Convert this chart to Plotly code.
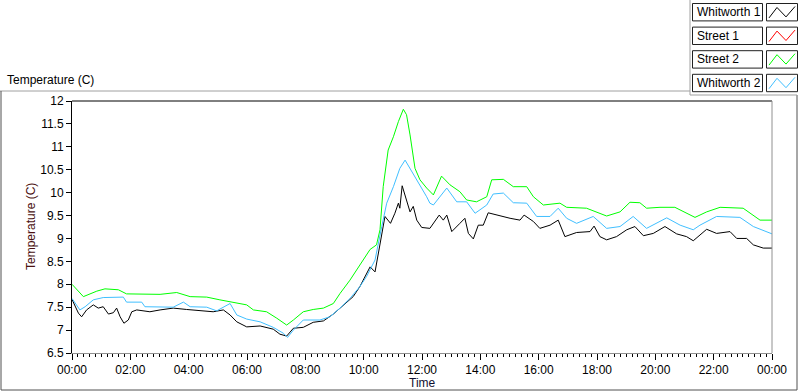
import pandas as pd
import plotly.graph_objects as go

# ---------------- data ----------------
series_names = ["Whitworth 1", "Street 1", "Street 2", "Whitworth 2"]
series_colors = ["#000000", "#ff0000", "#00ff00", "#40bfff"]

whitworth1_hours = [0.00, 0.22, 0.33, 0.50, 0.73, 0.90, 1.07, 1.25, 1.42, 1.53, 1.65, 1.78, 1.93, 2.05, 2.22,
                    2.67, 3.02, 3.47, 3.93, 4.39, 4.84, 5.19, 5.42, 5.65, 5.99, 6.45, 6.90, 7.13, 7.36, 7.59,
                    7.93, 8.27, 8.62, 8.96, 9.30, 9.64, 9.87, 10.22, 10.39, 10.56, 10.73, 10.92, 11.07, 11.19,
                    11.24, 11.32, 11.47, 11.59, 11.70, 11.82, 11.99, 12.27, 12.59, 12.73, 12.85, 13.02, 13.30,
                    13.47, 13.59, 13.76, 13.93, 14.10, 14.27, 14.67, 15.02, 15.36, 15.50, 15.82, 16.04, 16.39,
                    16.67, 16.90, 17.30, 17.76, 17.90, 18.10, 18.33, 18.67, 19.02, 19.30, 19.59, 19.93, 20.33,
                    20.73, 21.07, 21.30, 21.76, 22.10, 22.56, 22.79, 23.13, 23.36, 23.70, 24.00]
whitworth1_temp = [7.67, 7.37, 7.29, 7.44, 7.55, 7.48, 7.51, 7.35, 7.38, 7.48, 7.29, 7.15, 7.22, 7.40, 7.44,
                   7.40, 7.44, 7.48, 7.45, 7.42, 7.40, 7.44, 7.33, 7.18, 7.07, 7.09, 7.02, 6.91, 6.87, 7.04,
                   7.06, 7.17, 7.20, 7.35, 7.55, 7.73, 7.95, 8.38, 8.27, 8.90, 9.48, 9.33, 9.55, 9.77,
                   9.66, 10.15, 9.84, 9.58, 9.70, 9.40, 9.24, 9.22, 9.51, 9.40, 9.51, 9.15, 9.33,
                   9.44, 9.11, 8.99, 9.29, 9.29, 9.56, 9.49, 9.44, 9.40, 9.51, 9.37, 9.22, 9.29,
                   9.40, 9.04, 9.13, 9.15, 9.27, 9.04, 8.97, 9.04, 9.19, 9.26, 9.06, 9.11, 9.26,
                   9.10, 9.04, 8.95, 9.20, 9.11, 9.15, 9.00, 9.00, 8.86, 8.79, 8.79]

street1_hours = []
street1_temp = []

street2_hours = [0.00, 0.39, 0.85, 1.13, 1.59, 1.87, 3.02, 3.59, 4.05, 4.62, 5.07, 5.53, 5.99, 6.22, 6.67,
                 7.02, 7.36, 7.59, 7.93, 8.27, 8.62, 8.96, 9.19, 9.53, 9.87, 10.22, 10.44, 10.56, 10.67,
                 10.84, 11.02, 11.19, 11.36, 11.47, 11.59, 11.70, 11.76, 11.93, 12.16, 12.39, 12.67, 12.96,
                 13.30, 13.53, 13.87, 14.22, 14.39, 14.79, 15.13, 15.59, 15.82, 16.16, 16.73, 16.96, 17.64,
                 18.33, 18.79, 19.13, 19.47, 19.70, 20.16, 20.67, 21.07, 21.36, 21.76, 22.22, 23.01, 23.36,
                 23.59, 24.00]
street2_temp = [8.00, 7.73, 7.85, 7.90, 7.88, 7.79, 7.78, 7.82, 7.73, 7.72, 7.66, 7.61, 7.55, 7.44, 7.40,
                7.26, 7.11, 7.22, 7.40, 7.45, 7.48, 7.58, 7.80, 8.09, 8.42, 8.76, 8.86, 9.19, 10.13,
                10.93, 11.22, 11.55, 11.82, 11.70, 11.26, 10.71, 10.53, 10.28, 10.10, 9.95, 10.36, 10.17,
                10.02, 9.84, 9.80, 9.91, 10.28, 10.29, 10.13, 10.13, 9.91, 9.73, 9.77, 9.68, 9.66,
                9.49, 9.58, 9.79, 9.78, 9.66, 9.68, 9.68, 9.55, 9.46, 9.58, 9.68, 9.66, 9.51,
                9.40, 9.40]

whitworth2_hours = [0.00, 0.27, 0.45, 0.73, 1.07, 1.76, 1.87, 2.39, 2.50, 3.47, 3.82, 4.05, 4.62, 4.96, 5.42,
                    5.65, 5.99, 6.45, 6.90, 7.25, 7.39, 7.59, 7.93, 8.50, 8.84, 9.19, 9.53, 9.87, 10.10,
                    10.39, 10.62, 10.79, 11.02, 11.24, 11.42, 11.59, 11.82, 12.16, 12.27, 12.39, 12.85, 13.19,
                    13.53, 13.82, 14.22, 14.44, 14.79, 15.13, 15.59, 15.93, 16.39, 16.67, 16.96, 17.30, 17.87,
                    18.33, 18.79, 19.24, 19.70, 20.04, 20.39, 20.85, 21.30, 21.53, 22.10, 22.90, 23.36, 24.00]
whitworth2_temp = [7.69, 7.44, 7.51, 7.66, 7.71, 7.72, 7.61, 7.61, 7.51, 7.50, 7.61, 7.51, 7.50, 7.42, 7.58,
                   7.33, 7.24, 7.18, 7.06, 6.93, 6.84, 7.00, 7.22, 7.22, 7.29, 7.48, 7.69, 7.95, 8.17,
                   8.53, 9.26, 9.77, 10.13, 10.53, 10.71, 10.53, 10.28, 9.91, 9.77, 9.73, 10.10, 9.80,
                   9.80, 9.55, 9.73, 9.97, 9.99, 9.78, 9.77, 9.48, 9.48, 9.66, 9.44, 9.33, 9.48,
                   9.22, 9.26, 9.48, 9.22, 9.33, 9.45, 9.29, 9.19, 9.29, 9.48, 9.46, 9.26, 9.10]

series_hours = [whitworth1_hours, street1_hours, street2_hours, whitworth2_hours]
series_temps = [whitworth1_temp, street1_temp, street2_temp, whitworth2_temp]

y_ticks = [6.5, 7, 7.5, 8, 8.5, 9, 9.5, 10, 10.5, 11, 11.5, 12]
y_tick_labels = ["6.5", "7", "7.5", "8", "8.5", "9", "9.5", "10", "10.5", "11", "11.5", "12"]

base_day = pd.Timestamp("2015-06-01")

# ---------------- layout geometry (pixels) ----------------
W, H = 800, 392
L, R, T, B = 72, 772, 101, 353
FONT = "Liberation Sans"


def px(x):
    return (x - L) / (R - L)


def py(y):
    return (B - y) / (B - T)


fig = go.Figure()
for name, color, hrs, temps in zip(series_names, series_colors, series_hours, series_temps):
    t = [base_day + pd.Timedelta(hours=h) for h in hrs]
    fig.add_trace(go.Scatter(x=t, y=temps, mode="lines", name=name,
                             line=dict(color=color, width=1), showlegend=False))

shapes = []


def line(x0, y0, x1, y1, color, width=1):
    shapes.append(dict(type="line", xref="paper", yref="paper",
                       x0=px(x0), y0=py(y0), x1=px(x1), y1=py(y1),
                       line=dict(color=color, width=width)))


# outer panel frame
line(0, 91, 690, 91, "#a0a0a0")
line(1, 91, 1, 390, "#505050")
line(1, 390, 797, 390, "#505050")
line(797, 95, 797, 390, "#505050")
# legend panel frame
line(690, 0, 690, 95, "#a0a0a0")
line(690, 95, 797, 95, "#a0a0a0")
# plot box top and right
line(72, 101, 772, 101, "#000000")
line(772, 101, 772, 353, "#909090")

annotations = []
# custom legend
for i, (name, color) in enumerate(zip(series_names, series_colors)):
    y0 = 3.5 + i * 23.6
    y1 = y0 + 17.4
    shapes.append(dict(type="rect", xref="paper", yref="paper",
                       x0=px(692.5), x1=px(762.5), y0=py(y1), y1=py(y0),
                       line=dict(color="#202020", width=1), fillcolor="white"))
    shapes.append(dict(type="rect", xref="paper", yref="paper",
                       x0=px(766.5), x1=px(797.5), y0=py(y1), y1=py(y0),
                       line=dict(color="#202020", width=1), fillcolor="white"))
    pts = [(769, y1 - 3), (777, y0 + 4), (786, y1 - 4), (795, y0 + 3)]
    path = "M " + " L ".join(f"{px(a)},{py(b)}" for a, b in pts)
    shapes.append(dict(type="path", xref="paper", yref="paper", path=path,
                       line=dict(color=color, width=1)))
    annotations.append(dict(xref="paper", yref="paper", x=px(695), y=py((y0 + y1) / 2),
                            xanchor="left", yanchor="middle", showarrow=False,
                            text=name, font=dict(family=FONT, size=12, color="#000000")))

# chart label (top-left)
annotations.append(dict(xref="paper", yref="paper", x=px(5), y=py(80),
                        xanchor="left", yanchor="middle", showarrow=False,
                        text="Temperature (C)", font=dict(family=FONT, size=12, color="#000000")))
# axis titles
annotations.append(dict(xref="paper", yref="paper", x=0.5, y=py(383),
                        xanchor="center", yanchor="middle", showarrow=False,
                        text="Time", font=dict(family=FONT, size=12, color="#101030")))
annotations.append(dict(xref="paper", yref="paper", x=px(31), y=py(227),
                        xanchor="center", yanchor="middle", showarrow=False, textangle=-90,
                        text="Temperature (C)", font=dict(family=FONT, size=12, color="#4a1010")))

fig.update_layout(
    width=W, height=H,
    margin=dict(l=L, r=W - R, t=T, b=H - B, pad=0),
    paper_bgcolor="white", plot_bgcolor="white",
    font=dict(family=FONT, size=12, color="#000000"),
    shapes=shapes, annotations=annotations,
    xaxis=dict(
        type="date",
        range=[base_day, base_day + pd.Timedelta(hours=24)],
        tickformat="%H:%M", dtick=2 * 3600 * 1000, tick0=base_day,
        ticks="outside", ticklen=6, tickcolor="#000000", tickwidth=1,
        minor=dict(dtick=12 * 60 * 1000, ticks="outside", ticklen=3, tickcolor="#000000", showgrid=False),
        showgrid=False, zeroline=False, showline=True, linecolor="#909090", linewidth=1,
        tickfont=dict(family=FONT, size=12, color="#000000"),
        fixedrange=True,
    ),
    yaxis=dict(
        range=[6.5, 12],
        tickvals=y_ticks, ticktext=y_tick_labels,
        ticks="outside", ticklen=5, tickcolor="#000000", tickwidth=1,
        showgrid=False, zeroline=False, showline=True, linecolor="#000000", linewidth=1,
        tickfont=dict(family=FONT, size=12, color="#000000"),
        fixedrange=True,
    ),
)

fig.write_html("out.html", config={"displayModeBar": False},
               post_script="document.body.style.margin='0';document.body.style.overflow='hidden';")
